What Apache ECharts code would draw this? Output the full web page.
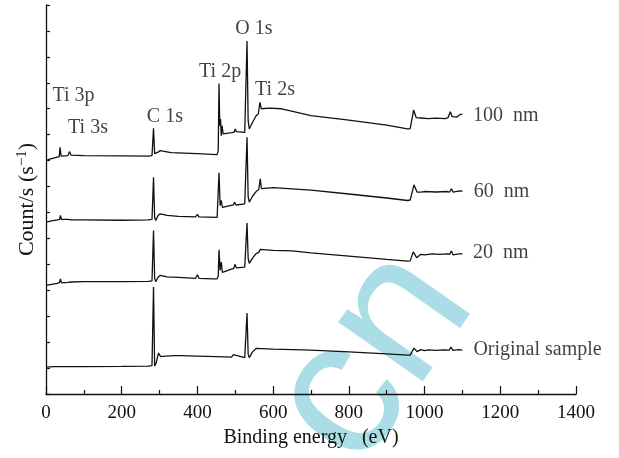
<!DOCTYPE html>
<html>
<head>
<meta charset="utf-8">
<script src="https://cdn.jsdelivr.net/npm/echarts@6/dist/echarts.min.js"></script>
<style>
  html, body { margin: 0; padding: 0; background: #fff; }
  #chart { width: 619px; height: 458px; }
</style>
</head>
<body>
<div id="chart"></div>
<script>
// binding energy (eV) vs counts (arbitrary offset units)
const original = [[0,27],[20,27.5],[100,27.5],[200,27.7],[270,28],[280,28.5],[284,107.3],[287,28],[291,31],[297,41],[303,37.5],[315,38],[340,38.5],[345,40.5],[355,38.5],[400,38],[450,37.5],[490,37],[495,39.5],[500,37.5],[525,36.5],[529,38],[531,81.3],[534,40],[537,36.5],[545,42],[555,45.7],[570,45.5],[600,45],[700,44],[800,42.2],[900,40.2],[955,39],[962,39],[972,46],[980,42.5],[990,44.5],[1000,43.5],[1010,44.2],[1030,43.7],[1050,44.2],[1065,44],[1070,47],[1075,43.7],[1090,44.5],[1100,44]];

const nm20 = [[0,109],[15,110],[30,111],[36,112],[38,115.3],[41,111.5],[58,112],[62,114],[66,112.3],[100,112.7],[200,112.7],[270,113],[280,113.5],[284,164],[287,116],[290,112.5],[296,117],[302,119],[320,117.5],[350,117],[395,116],[400,119.5],[404,116],[440,115.5],[452,115.5],[455,118],[457,144.7],[460,124],[463,132.3],[466,122],[470,124],[490,125.3],[496,126],[499,130],[503,126.5],[525,127.3],[528,129],[531,171.3],[534,136],[537,131],[545,136],[555,140.7],[562,142],[566,145],[570,143],[600,144],[650,143.5],[700,141.5],[800,138.3],[900,135],[955,133.3],[962,133.5],[970,142.5],[979,136.7],[990,140],[1000,139.5],[1020,140.5],[1040,140],[1060,140.5],[1066,140],[1071,143.5],[1075,139.5],[1090,140.5],[1100,140.5]];

const nm60 = [[0,172.3],[15,173.5],[30,174.5],[36,175],[38,179],[41,175],[58,175],[62,176.7],[66,174.5],[100,174.5],[200,174.2],[270,174.5],[280,175],[284,217.3],[287,177],[290,174],[296,179],[302,180.7],[320,179],[350,178],[395,177.5],[400,180],[404,177.5],[452,177],[455,179],[457,221.7],[460,189],[463,194],[466,187],[470,187.3],[495,189.5],[498,192.3],[502,189.5],[525,190.7],[528,192],[531,257.3],[534,198],[537,192.3],[545,198],[555,203],[562,205],[566,215.7],[569,206],[600,207],[700,204.5],[800,200.5],[900,196.5],[955,194],[962,194.5],[972,209.7],[980,202.5],[990,202.3],[1000,203],[1030,202.5],[1060,203],[1066,202.5],[1071,205.7],[1075,202.5],[1090,203.5],[1100,203.3]];

const nm100 = [[0,234],[10,235.5],[25,237],[35,238],[37,247.3],[40,238.5],[58,239],[62,243],[66,239.5],[100,239],[200,238.7],[270,238.5],[280,239],[284,266.3],[287,241],[290,239],[296,242.5],[302,244],[330,242],[400,241],[452,240],[455,244],[457,311.3],[459,269],[461,275.7],[463,259],[465,269],[468,260.7],[490,262],[497,262.5],[500,265.7],[503,263],[525,262.3],[528,264],[531,354],[534,274],[537,265.7],[545,272],[555,279],[561,281],[565,292.3],[569,286],[590,286.7],[620,286],[700,279],[800,274.5],[900,269.5],[955,265.7],[962,266],[971,284.7],[978,277],[990,276.7],[1010,276],[1030,276.5],[1055,276],[1062,277],[1068,283],[1073,278],[1085,277.5],[1093,280],[1100,280.7]];

// peak labels and curve names: [x, y, text, align]
const peakLabels = [
  [549, 365.7, "O 1s", "center"],
  [460, 323.5, "Ti 2p", "center"],
  [605, 305.5, "Ti 2s", "center"],
  [72.6, 299, "Ti 3p", "center"],
  [111, 266.5, "Ti 3s", "center"],
  [314, 277.5, "C 1s", "center"],
];
const curveNames = [
  [1128, 279, "100  nm", "left"],
  [1130, 203, "60  nm", "left"],
  [1128, 142, "20  nm", "left"],
  [1129, 44.5, "Original sample", "left"],
];

const serif = "Liberation Serif";
const ink = "#111";

let myChart = echarts.init(document.getElementById("chart"));

const lineSeries = [original, nm20, nm60, nm100].map((d) => ({
  type: "line",
  data: d,
  showSymbol: false,
  symbol: "none",
  lineStyle: { color: ink, width: 1.3 },
  z: 3,
}));

const textSeries = {
  type: "scatter",
  symbolSize: 0,
  silent: true,
  z: 4,
  data: peakLabels.concat(curveNames).map((p) => ({
    value: [p[0], p[1]],
    label: { formatter: p[2], align: p[3] },
  })),
  label: {
    show: true,
    position: "inside",
    color: ink,
    fontFamily: serif,
    fontSize: 20,
    verticalAlign: "middle",
  },
};

let option = {
  animation: false,
  backgroundColor: "#fff",
  grid: { left: 46, right: 43, top: 5, bottom: 64 },
  // watermark
  graphic: [
    {
      type: "text",
      x: 374,
      y: 357,
      rotation: (55 * Math.PI) / 180,
      z: 0,
      style: {
        text: "cn",
        fill: "#abdde6",
        font: '195px "Liberation Sans"',
        align: "center",
        verticalAlign: "middle",
      },
    },
  ],
  xAxis: {
    type: "value",
    min: 0,
    max: 1400,
    interval: 200,
    name: "Binding energy\u2002 (eV)",
    nameLocation: "middle",
    nameGap: 34,
    nameTextStyle: { color: ink, fontFamily: serif, fontSize: 20, verticalAlign: "top" },
    axisLine: { lineStyle: { color: ink, width: 1.3 } },
    axisTick: { inside: true, length: 8, lineStyle: { color: ink, width: 1.2 } },
    minorTick: { show: true, splitNumber: 2, length: 4, lineStyle: { color: ink, width: 1.2 } },
    axisLabel: { color: ink, fontFamily: serif, fontSize: 19, margin: 10, formatter: (v) => String(v) },
    splitLine: { show: false },
  },
  yAxis: {
    type: "value",
    min: 0,
    max: 390,
    interval: 26,
    name: "Count/s (s{sup|\u22121})",
    nameLocation: "middle",
    nameGap: 7,
    nameTextStyle: {
      color: ink,
      fontFamily: serif,
      fontSize: 22,
      lineHeight: 24,
      rich: {
        sup: { fontFamily: serif, fontSize: 15, color: ink, verticalAlign: "top", lineHeight: 24 },
      },
    },
    axisLine: { show: true, lineStyle: { color: ink, width: 1.3 } },
    axisTick: { show: true, inside: true, length: 4, lineStyle: { color: ink, width: 1.2 } },
    axisLabel: { show: false },
    splitLine: { show: false },
  },
  series: lineSeries.concat([textSeries]),
};

option && myChart.setOption(option);
</script>
</body>
</html>
